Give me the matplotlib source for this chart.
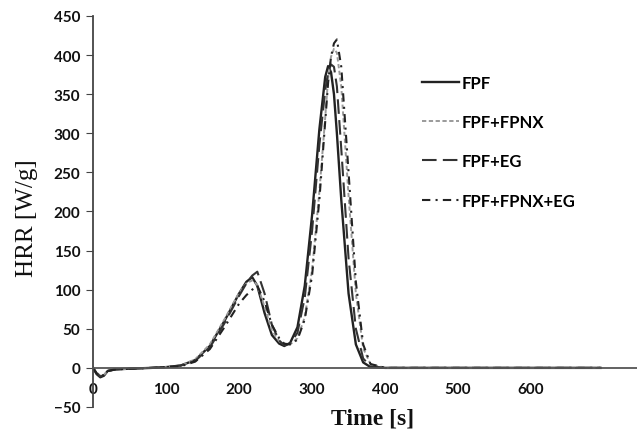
import matplotlib.pyplot as plt
import numpy as np

# time grid (s) shared by all series
t = [0, 5, 10, 15, 20, 30, 50, 80, 100, 120, 140, 160, 180, 200, 210, 218, 225,
     235, 245, 255, 262, 270, 280, 290, 300, 310, 318, 322, 326, 330, 334, 340,
     350, 360, 370, 380, 400, 500, 600, 695]

fpf = [0, -8, -12, -10, -4, -2, -1, 0, 1, 3, 10, 28, 60, 95, 110, 116, 105,
       70, 42, 31, 28, 32, 52, 105, 195, 305, 372, 386, 378, 350, 300, 215,
       95, 30, 7, 1, 0, 0, 0, 0]

fpf_fpnx = [0, -6, -10, -9, -4, -2, -1, 0, 1, 3, 11, 30, 62, 96, 108, 112, 106,
            78, 48, 34, 30, 30, 38, 65, 125, 225, 320, 370, 398, 408, 403, 360,
            220, 95, 25, 5, 0, 0, 0, 0]

fpf_eg = [0, -7, -11, -9, -4, -2, -1, 0, 1, 3, 9, 26, 57, 92, 108, 118, 123,
          95, 55, 35, 29, 31, 45, 90, 175, 285, 355, 378, 388, 385, 360, 280,
          140, 50, 12, 2, 0, 0, 0, 0]

fpf_fpnx_eg = [0, -7, -11, -9, -4, -2, -1, 0, 1, 2, 8, 24, 52, 82, 93, 100, 105,
               85, 55, 38, 31, 30, 36, 62, 118, 215, 315, 365, 398, 415, 420, 385,
               250, 110, 30, 5, 0, 0, 0, 0]

labels = ['FPF', 'FPF+FPNX', 'FPF+EG', 'FPF+FPNX+EG']

fig, ax = plt.subplots(figsize=(6.37, 4.31), dpi=100)
fig.subplots_adjust(left=0.146, right=1.0, top=0.9606, bottom=0.0534)

ax.plot(t, fpf, color='#222222', lw=1.7, ls='-', label=labels[0])
ax.plot(t, fpf_fpnx, color='#9a9a9a', lw=1.4, ls=(0, (2.2, 1.3)), label=labels[1])
ax.plot(t, fpf_eg, color='#333333', lw=1.5, ls=(0, (7, 3)), label=labels[2])
ax.plot(t, fpf_fpnx_eg, color='#222222', lw=1.5, ls=(0, (4, 2.5, 1, 2.5)), label=labels[3])

ax.set_xlim(0, 745)
ax.set_ylim(-50, 450)
ax.set_yticks(np.arange(-50, 451, 50))
ax.set_xticks(np.arange(0, 601, 100))

for s in ['top', 'right']:
    ax.spines[s].set_visible(False)
ax.spines['bottom'].set_position(('data', 0))
ax.spines['bottom'].set_color('#555555')
ax.spines['bottom'].set_linewidth(1.3)
ax.spines['left'].set_color('#444444')
ax.spines['left'].set_linewidth(1.3)

ax.tick_params(axis='x', length=0, pad=10)
ax.tick_params(axis='y', length=5, direction='out', pad=4, color='#444444')
for lab in ax.get_xticklabels() + ax.get_yticklabels():
    lab.set_fontfamily('Lato')
    lab.set_fontweight('bold')
    lab.set_fontsize(11)
    lab.set_color('#111111')

# axis titles
fig.text(27 / 637, 1 - 218 / 431, 'HRR [W/g]', rotation=90, ha='center', va='center',
         fontfamily='Liberation Serif', fontsize=18, color='#111111')
fig.text(373 / 637, 1 - 419 / 431, 'Time [s]', ha='center', va='center',
         fontfamily='Liberation Serif', fontsize=17, fontweight='bold', color='#111111')

leg = ax.legend(loc='upper left', bbox_to_anchor=(0.605, 0.85), frameon=False,
                borderaxespad=0, borderpad=0,
                handlelength=2.2, labelspacing=1.4, handletextpad=0.15,
                prop={'family': 'Lato', 'weight': 'bold', 'size': 12})

fig.savefig('out.png', dpi=100)
